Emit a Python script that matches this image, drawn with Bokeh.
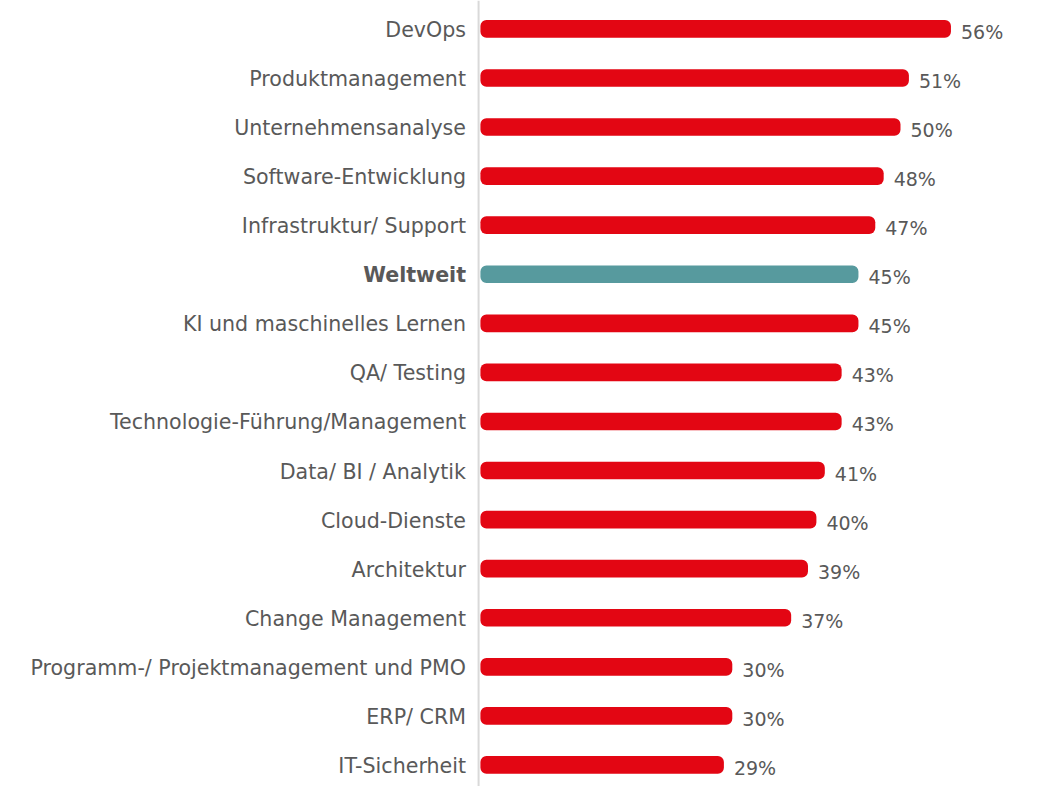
from bokeh.plotting import figure
from bokeh.models import ColumnDataSource, Range1d, Span
from bokeh.core.properties import value
from bokeh.embed import file_html
from bokeh.resources import INLINE

categories = ["DevOps", "Produktmanagement", "Unternehmensanalyse", "Software-Entwicklung",
              "Infrastruktur/ Support", "Weltweit", "KI und maschinelles Lernen", "QA/ Testing",
              "Technologie-Führung/Management", "Data/ BI / Analytik", "Cloud-Dienste",
              "Architektur", "Change Management", "Programm-/ Projektmanagement und PMO",
              "ERP/ CRM", "IT-Sicherheit"]
values = [56, 51, 50, 48, 47, 45, 45, 43, 43, 41, 40, 39, 37, 30, 30, 29]
highlight = "Weltweit"

RED = "#e30613"
TEAL = "#579a9e"
GREY = "#595959"
FONT = "DejaVu Sans"

n = len(categories)
ys = list(range(n))
colors = [TEAL if c == highlight else RED for c in categories]
styles = ["bold" if c == highlight else "normal" for c in categories]
labels = [f"{v}%" for v in values]

src = ColumnDataSource(dict(y=ys, v=values, cat=categories, color=colors,
                            style=styles, lab=labels, zero=[0] * n))

W, H = 1026, 786
pxu = 8.41
x0 = 479.5
y0 = 28.4
step = 49.07
p = figure(width=W, height=H, output_backend="svg", toolbar_location=None,
           x_range=Range1d(-x0 / pxu, (W - x0) / pxu),
           y_range=Range1d((H - y0) / step, -y0 / step),
           min_border=0, min_border_left=0, min_border_right=0,
           min_border_top=0, min_border_bottom=0)
p.axis.visible = False
p.grid.visible = False
p.outline_line_color = None
p.background_fill_color = "white"
p.border_fill_color = "white"

p.add_layout(Span(location=-0.17, dimension="height", line_color="#d9d9d9", line_width=2))

p.hbar(y="y", left=0.05, right="v", height=0.36, fill_color="color", line_color=None,
       border_radius=6, source=src)

p.text(x="zero", y="y", text="cat", source=src, x_offset=-14, y_offset=1,
       text_align="right", text_baseline="middle", text_font=value(FONT),
       text_font_size="20.6px", text_font_style="style", text_color=GREY)

p.text(x="v", y="y", text="lab", source=src, x_offset=10, y_offset=3,
       text_align="left", text_baseline="middle", text_font=value(FONT),
       text_font_size="19px", text_color=GREY)

open("out.html", "w").write(file_html(p, INLINE))
